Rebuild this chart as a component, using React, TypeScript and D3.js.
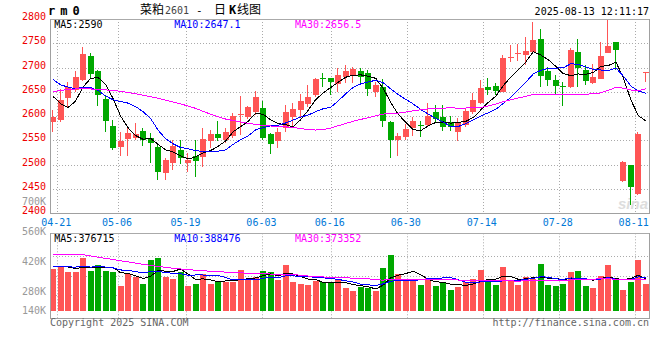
import React from 'react';
import * as d3 from 'd3';

// ---------------- data ----------------
const dates = [
  '04-18', '04-21', '04-22', '04-23', '04-24', '04-25', '04-28', '04-29', '04-30',
  '05-06', '05-07', '05-08', '05-09', '05-12', '05-13', '05-14', '05-15', '05-16',
  '05-19', '05-20', '05-21', '05-22', '05-23', '05-26', '05-27', '05-28', '05-29', '05-30',
  '06-03', '06-04', '06-05', '06-06', '06-09', '06-10', '06-11', '06-12', '06-13',
  '06-16', '06-17', '06-18', '06-19', '06-20', '06-23', '06-24', '06-25', '06-26', '06-27',
  '06-30', '07-01', '07-02', '07-03', '07-04', '07-07', '07-08', '07-09', '07-10', '07-11',
  '07-14', '07-15', '07-16', '07-17', '07-18', '07-21', '07-22', '07-23', '07-24', '07-25',
  '07-28', '07-29', '07-30', '07-31', '08-01', '08-04', '08-05', '08-06', '08-07', '08-08',
  '08-11', '08-12', '08-13',
];
const opens = [
  2587, 2592, 2638, 2654, 2675, 2724, 2692, 2635, 2580, 2537,
  2553, 2556, 2570, 2556, 2537, 2482, 2503, 2530, 2504, 2518,
  2515, 2548, 2563, 2551, 2559, 2603, 2599, 2609, 2616, 2563,
  2548, 2575, 2599, 2613, 2624, 2644, 2678, 2678, 2666, 2681,
  2683, 2693, 2688, 2650, 2661, 2587, 2551, 2558, 2575, 2581,
  2582, 2609, 2598, 2587, 2568, 2582, 2609, 2628, 2659, 2663,
  2650, 2720, 2727, 2726, 2733, 2758, 2693, 2674, 2663, 2659,
  2733, 2695, 2669, 2676, 2729, 2753, 2467, 2499, 2440, 2689,
];
const highs = [
  2613, 2655, 2671, 2692, 2743, 2731, 2695, 2641, 2593, 2568,
  2575, 2586, 2575, 2565, 2540, 2513, 2551, 2551, 2524, 2551,
  2575, 2572, 2590, 2575, 2606, 2641, 2621, 2652, 2631, 2566,
  2576, 2623, 2628, 2645, 2665, 2679, 2688, 2678, 2700, 2705,
  2702, 2700, 2695, 2671, 2676, 2591, 2565, 2583, 2599, 2590,
  2628, 2622, 2622, 2600, 2596, 2616, 2647, 2674, 2678, 2669,
  2726, 2746, 2748, 2762, 2793, 2779, 2702, 2685, 2671, 2740,
  2759, 2705, 2707, 2753, 2797, 2753, 2507, 2499, 2567, 2691,
];
const lows = [
  2568, 2587, 2618, 2650, 2673, 2676, 2621, 2568, 2531, 2517,
  2517, 2551, 2539, 2504, 2469, 2469, 2490, 2502, 2486, 2475,
  2496, 2534, 2548, 2544, 2556, 2561, 2594, 2602, 2551, 2523,
  2535, 2568, 2580, 2596, 2619, 2640, 2659, 2644, 2650, 2668,
  2668, 2668, 2642, 2640, 2578, 2513, 2518, 2550, 2559, 2558,
  2578, 2587, 2570, 2570, 2548, 2578, 2605, 2626, 2644, 2644,
  2650, 2712, 2714, 2705, 2729, 2661, 2663, 2646, 2621, 2657,
  2661, 2664, 2666, 2676, 2729, 2694, 2465, 2418, 2438, 2671,
];
const closes = [
  2599, 2633, 2659, 2681, 2728, 2686, 2644, 2589, 2534, 2549,
  2565, 2563, 2551, 2544, 2486, 2510, 2539, 2513, 2510, 2508,
  2552, 2563, 2556, 2567, 2601, 2605, 2618, 2639, 2556, 2543,
  2567, 2608, 2615, 2631, 2640, 2677, 2676, 2671, 2685, 2692,
  2697, 2680, 2656, 2664, 2589, 2550, 2559, 2574, 2589, 2579,
  2600, 2594, 2578, 2577, 2587, 2611, 2633, 2657, 2654, 2652,
  2719, 2722, 2731, 2735, 2757, 2683, 2674, 2662, 2661, 2737,
  2700, 2672, 2681, 2723, 2745, 2736, 2505, 2455, 2563, 2691,
];
const volumes = [
  494000, 534000, 463000, 463000, 628000, 475000, 542000, 475000, 463000, 298000,
  436000, 397000, 318000, 601000, 628000, 404000, 377000, 463000, 298000, 318000,
  436000, 318000, 353000, 345000, 345000, 483000, 377000, 397000, 471000, 459000,
  365000, 542000, 342000, 318000, 306000, 357000, 342000, 326000, 373000, 275000,
  236000, 279000, 267000, 236000, 510000, 660000, 436000, 365000, 365000, 306000,
  390000, 294000, 335000, 247000, 286000, 345000, 378800, 480000, 365000, 306000,
  520000, 365000, 306000, 395000, 373000, 552000, 306000, 294000, 318000, 460000,
  475000, 294000, 274000, 416000, 542185, 373200, 246800, 344900, 600600, 318075,
];
// estimated closes / volumes of the 29 sessions before the first visible one (for the moving averages)
const priorCloses = [
  2543, 2599, 2651, 2728, 2686, 2674, 2619, 2564, 2609, 2625,
  2653, 2641, 2634, 2576, 2630, 2659, 2633, 2630, 2658, 2732,
  2743, 2706, 2717, 2691, 2695, 2708, 2699, 2616, 2582,
];
const priorVolumes = [
  534000, 463000, 463000, 628000, 925000, 962000, 895000, 883000, 718000, 856000,
  817000, 738000, 991000, 988000, 734000, 677000, 733000, 538000, 528000, 616000,
  498000, 503000, 495000, 495000, 603000, 497000, 517000, 561000, 540000,
];
const dateTicks = ['04-21', '05-06', '05-19', '06-03', '06-16', '06-30', '07-14', '07-28', '08-11'];
const priceTicks = [2400, 2450, 2500, 2550, 2600, 2650, 2700, 2750, 2800];
const volumeTicks = [140000, 280000, 420000, 560000, 700000];
const maPeriods = [5, 10, 30];
const maColors = ['#000000', '#0000ff', '#ff00ff'];

// ---------------- helpers ----------------
const MONO = '"DejaVu Sans Mono", "Liberation Mono", monospace';
const CJK = '"Noto Sans CJK SC", "Noto Sans", sans-serif';
const RED = '#ff5555';
const GREEN = '#00a800';
const GRID = '#aaaaaa';
const AXIS = '#a0a0a0';

function movingAvg(prior: number[], vals: number[], n: number): number[] {
  const all = prior.concat(vals);
  const off = prior.length;
  return vals.map((_, i) => d3.mean(all.slice(off + i - n + 1, off + i + 1)) as number);
}
const fmtPrice = (v: number) => {
  const r = Math.round(v * 10) / 10;
  return Number.isInteger(r) ? String(r) : r.toFixed(1);
};
const fmtVol = (v: number) => String(Math.round(v));
const fmtK = (v: number) => `${Math.round(v / 1000)}K`;

export default function App() {
  const W = 660;
  const H = 360;
  const left = 50;
  const right = 649.5;
  const pTop = 19;
  const pBottom = 213.3;
  const vTop = 233.3;
  const vBottom = 318.3;
  const vBase = 311;

  const idx = d3.range(dates.length);
  const xBand = d3.scaleBand<number>().domain(idx).range([49.25, 649.75]);
  const cx = (i: number) => (xBand(i) as number) + xBand.bandwidth() / 2;
  const y = d3.scaleLinear().domain([2400, 2800]).range([pBottom, pTop]);
  const vy = d3.scaleLinear().domain([0, 915000]).range([vBase, vTop]);

  const tickIdx = dateTicks.map((t) => dates.indexOf(t));
  const gx = d3.scaleLinear().domain([tickIdx[0], tickIdx[7]]).range([57.3, 558.7]);
  const volGrid = d3.scaleLinear().domain([0, 4]).range([314.5, 236.5]);
  const volLabelY = d3.scaleLinear().domain([280000, 700000]).range([291.7, 201]);

  const priceMA = maPeriods.map((n) => movingAvg(priorCloses, closes, n));
  const volMA = maPeriods.map((n) => movingAvg(priorVolumes, volumes, n));

  const priceLine = d3.line<number>().x((_, i) => cx(i)).y((v) => y(v));
  const volLine = d3.line<number>().x((_, i) => cx(i)).y((v) => vy(v));

  const colorOf = (i: number) => (closes[i] >= opens[i] ? RED : GREEN);
  const bodyX = (i: number) => Math.round(cx(i) - 3);

  const legendX = [54.3, 174.3, 295];

  return (
    <svg
      width={W}
      height={H}
      style={{ position: 'absolute', left: 0, top: 0, background: '#fff' }}
      xmlns="http://www.w3.org/2000/svg"
    >
      <rect x={0} y={0} width={W} height={H} fill="#fff" />

      {/* header */}
      <text x={48} y={15} fontFamily={MONO} fontWeight="bold" fontSize={12} letterSpacing={5} fill="#000">
        rm0
      </text>
      <text y={13.5} fill="#000">
        <tspan x={140} fontFamily={CJK} fontSize={12}>菜粕</tspan>
        <tspan x={165} fontFamily={MONO} fontSize={10} fill="#444">2601</tspan>
        <tspan x={196} fontFamily={MONO} fontSize={11}>-</tspan>
        <tspan x={214} fontFamily={CJK} fontSize={12}>日</tspan>
        <tspan x={229} fontFamily={MONO} fontWeight="bold" fontSize={12}>K</tspan>
        <tspan x={237} fontFamily={CJK} fontSize={12}>线图</tspan>
      </text>
      <text x={649} y={15} textAnchor="end" fontFamily={MONO} fontSize={10} fill="#000">
        2025-08-13 12:11:17
      </text>

      {/* price grid */}
      {priceTicks.slice(1, -1).map((t) => (
        <line key={'pg' + t} x1={left} x2={right} y1={Math.round(y(t)) + 0.5} y2={Math.round(y(t)) + 0.5}
          stroke={GRID} strokeDasharray="1,2" />
      ))}
      {tickIdx.map((ti) => (
        <line key={'vg' + ti} x1={Math.round(gx(ti)) + 0.5} x2={Math.round(gx(ti)) + 0.5} y1={pTop} y2={pBottom}
          stroke={GRID} strokeDasharray="1,2" />
      ))}
      {/* volume grid */}
      {[1, 2, 3].map((k) => (
        <line key={'vh' + k} x1={left} x2={right} y1={Math.round(volGrid(k)) + 0.5} y2={Math.round(volGrid(k)) + 0.5}
          stroke={GRID} strokeDasharray="1,2" />
      ))}
      {tickIdx.map((ti) => (
        <line key={'vv' + ti} x1={Math.round(gx(ti)) + 0.5} x2={Math.round(gx(ti)) + 0.5} y1={vTop} y2={vBottom}
          stroke={GRID} strokeDasharray="1,2" />
      ))}

      {/* watermark */}
      <text x={648} y={209} textAnchor="end" fontFamily="Arial, 'Liberation Sans', sans-serif" fontStyle="italic"
        fontWeight="bold" fontSize={15} fill="#dddddd">
        sina
      </text>

      {/* candles */}
      {idx.map((i) => {
        const c = colorOf(i);
        const bx = bodyX(i);
        const top = y(Math.max(opens[i], closes[i]));
        const bot = y(Math.min(opens[i], closes[i]));
        return (
          <g key={'c' + i} shapeRendering="crispEdges">
            <line x1={bx + 2.5} x2={bx + 2.5} y1={y(highs[i])} y2={y(lows[i])} stroke={c} />
            <rect x={bx} y={top} width={6} height={Math.max(1, bot - top)} fill={c} />
          </g>
        );
      })}

      {/* price MAs */}
      {priceMA.map((m, k) => (
        <path key={'pm' + k} d={priceLine(m) || ''} fill="none" stroke={maColors[k]} strokeWidth={1}
          shapeRendering="crispEdges" />
      ))}

      {/* volume bars */}
      {idx.map((i) => (
        <rect key={'v' + i} x={bodyX(i)} y={vy(volumes[i])} width={6} height={vBase - vy(volumes[i])}
          fill={colorOf(i)} shapeRendering="crispEdges" />
      ))}
      {volMA.map((m, k) => (
        <path key={'vm' + k} d={volLine(m) || ''} fill="none" stroke={maColors[k]} strokeWidth={1}
          shapeRendering="crispEdges" />
      ))}

      {/* frames */}
      <g shapeRendering="crispEdges" fill="none">
        <line x1={left} x2={right} y1={pTop + 0.5} y2={pTop + 0.5} stroke={GRID} />
        <line x1={left + 0.5} x2={left + 0.5} y1={pTop} y2={pBottom + 1} stroke={AXIS} strokeWidth={1.5} />
        <line x1={left} x2={right + 0.5} y1={pBottom} y2={pBottom} stroke={AXIS} strokeWidth={1.5} />
        <line x1={right} x2={right} y1={pTop} y2={pBottom} stroke={AXIS} />
        <line x1={left} x2={right} y1={vTop} y2={vTop} stroke={GRID} />
        <line x1={left + 0.5} x2={left + 0.5} y1={vTop} y2={vBottom + 1} stroke={AXIS} strokeWidth={1.5} />
        <line x1={left} x2={right + 0.5} y1={vBottom} y2={vBottom} stroke={AXIS} strokeWidth={1.5} />
        <line x1={right} x2={right} y1={vTop} y2={vBottom} stroke={AXIS} />
      </g>

      {/* price axis labels */}
      {priceTicks.map((t) => (
        <text key={'pl' + t} x={46} y={y(t) + 1} textAnchor="end" fontFamily={MONO} fontSize={10} fill="#ee0000">
          {t}
        </text>
      ))}
      {/* volume axis labels */}
      {volumeTicks.map((t) => (
        <text key={'vl' + t} x={46} y={Math.min(volLabelY(t), 310.7) + 3.6} textAnchor="end" fontFamily={MONO}
          fontSize={10} fill="#999999">
          {fmtK(t)}
        </text>
      ))}
      {/* date labels */}
      {tickIdx.map((ti, k) => (
        <text key={'dl' + ti} x={gx(ti) - 1} y={225.5} textAnchor="middle" fontFamily={MONO} fontSize={10}
          fill="#0078d7">
          {dateTicks[k]}
        </text>
      ))}

      {/* MA legends */}
      {maPeriods.map((n, k) => (
        <text key={'lg' + n} x={legendX[k]} y={27.5} fontFamily={MONO} fontSize={10} fill={maColors[k]}>
          {`MA${n}:${fmtPrice(priceMA[k][priceMA[k].length - 1])}`}
        </text>
      ))}
      {maPeriods.map((n, k) => (
        <text key={'vlg' + n} x={legendX[k]} y={242} fontFamily={MONO} fontSize={10} fill={maColors[k]}>
          {`MA${n}:${fmtVol(volMA[k][volMA[k].length - 1])}`}
        </text>
      ))}

      {/* footer */}
      <text x={50} y={326} fontFamily={MONO} fontSize={10} fill="#666">Copyright 2025 SINA.COM</text>
      <text x={649} y={326} textAnchor="end" fontFamily={MONO} fontSize={10} fill="#666">
        http://finance.sina.com.cn
      </text>
    </svg>
  );
}
